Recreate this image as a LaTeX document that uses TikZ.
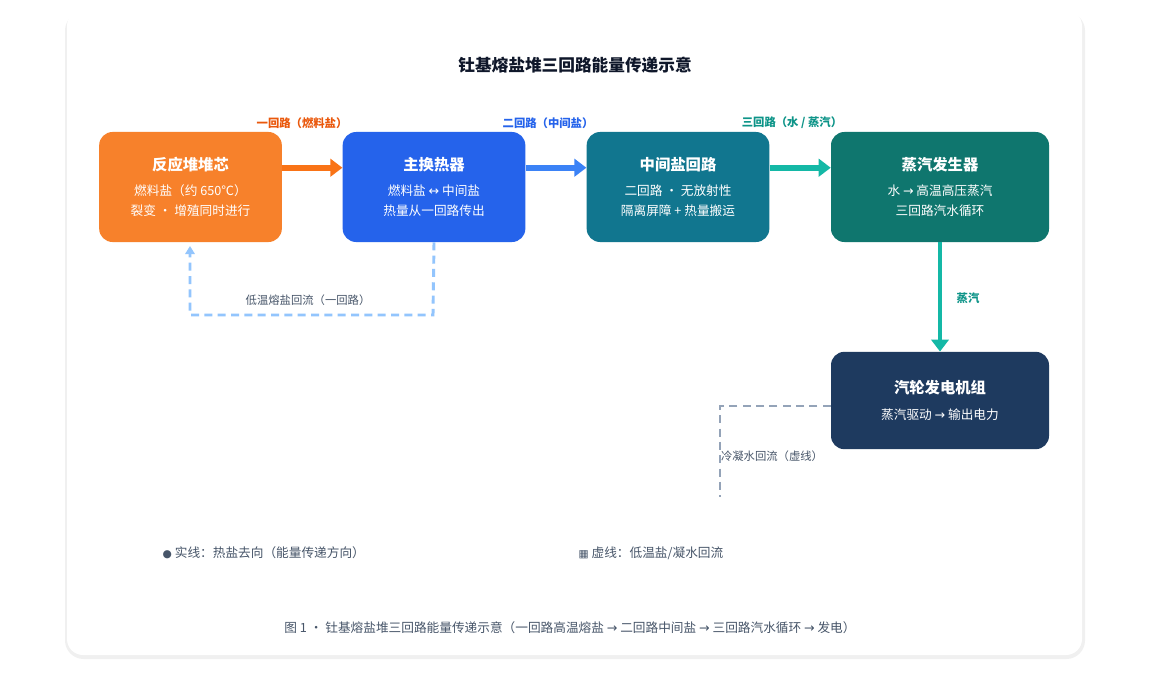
\documentclass[tikz,border=0pt]{standalone}
\usepackage{fontspec}
\setmainfont{Noto Sans CJK SC}
\newfontfamily\symf{DejaVu Sans}
\usetikzlibrary{arrows.meta}
\definecolor{corec}{HTML}{F7812B}
\definecolor{hxc}{HTML}{2563EB}
\definecolor{midc}{HTML}{11768F}
\definecolor{sgc}{HTML}{0F766E}
\definecolor{turc}{HTML}{1E3A5F}
\definecolor{a1}{HTML}{F97316}
\definecolor{a2}{HTML}{3B82F6}
\definecolor{a3}{HTML}{14B8A6}
\definecolor{l1}{HTML}{EA580C}
\definecolor{l2}{HTML}{2563EB}
\definecolor{l3}{HTML}{0D9488}
\definecolor{ret}{HTML}{93C5FD}
\definecolor{gret}{HTML}{94A3B8}
\definecolor{txt}{HTML}{475569}
\definecolor{ttl}{HTML}{0F172A}
\begin{document}
\begin{tikzpicture}[x=0.75pt,y=-0.75pt,
 box/.style={rounded corners=10pt,minimum height=82.5pt,text=white,align=center,inner sep=0pt},
 hd/.style={font=\bfseries\fontsize{11.5}{14}\selectfont},
 flow/.style={line width=4.5pt,-{Triangle[length=9pt,width=13pt]}},
 lab/.style={font=\bfseries\fontsize{8.5}{10}\selectfont},
 small/.style={font=\fontsize{8.5}{10}\selectfont,text=txt}]
\useasboundingbox (0,0) rectangle (1155,681);
\fill[white] (0,0) rectangle (1155,681);
\fill[black!6,rounded corners=14pt] (65,12) rectangle (1085,659);
\fill[white,rounded corners=12pt] (67,10) rectangle (1082,655);
\node[font=\bfseries\fontsize{12.5}{14}\selectfont,text=ttl] (title) at (575,65) {钍基熔盐堆三回路能量传递示意};
\node[box,fill=corec,minimum width=137pt,font=\fontsize{9.5}{15}\selectfont] (core) at (190.5,187) {{\bfseries\fontsize{11.5}{14}\selectfont 反应堆堆芯}\\[4pt]燃料盐（约 650℃）\\裂变 · 增殖同时进行};
\node[box,fill=hxc,minimum width=137pt,font=\fontsize{9.5}{15}\selectfont] (hx) at (434,187) {{\bfseries\fontsize{11.5}{14}\selectfont 主换热器}\\[4pt]燃料盐 {\symf ↔} 中间盐\\热量从一回路传出};
\node[box,fill=midc,minimum width=137pt,font=\fontsize{9.5}{15}\selectfont] (mid) at (678,187) {{\bfseries\fontsize{11.5}{14}\selectfont 中间盐回路}\\[4pt]二回路 · 无放射性\\隔离屏障 + 热量搬运};
\node[box,fill=sgc,minimum width=163.5pt,font=\fontsize{9.5}{15}\selectfont] (sg) at (940,187) {{\bfseries\fontsize{11.5}{14}\selectfont 蒸汽发生器}\\[4pt]水 {\symf →} 高温高压蒸汽\\三回路汽水循环};
\node[box,fill=turc,minimum width=163.5pt,minimum height=73pt,font=\fontsize{9.5}{15}\selectfont] (tur) at (940,400.5) {{\bfseries\fontsize{11.5}{14}\selectfont 汽轮发电机组}\\[4pt]蒸汽驱动 {\symf →} 输出电力};
\coordinate (c1) at ([yshift=-27pt]core.north east);
\coordinate (h1) at ([yshift=-27pt]hx.north west);
\coordinate (h2) at ([yshift=-27pt]hx.north east);
\coordinate (m1) at ([yshift=-27pt]mid.north west);
\coordinate (m2) at ([yshift=-27pt]mid.north east);
\coordinate (s1) at ([yshift=-27pt]sg.north west);
\draw[flow,a1] (c1) -- (h1);
\draw[flow,a2] (h2) -- (m1);
\draw[flow,a3] (m2) -- (s1);
\draw[flow,a3,line width=3pt] (sg.south) -- (tur.north);
\node[lab,text=l1] (t1) at (302,123) {一回路（燃料盐）};
\node[lab,text=l2] (t2) at (548,123) {二回路（中间盐）};
\node[lab,text=l3] (t3) at (792,123) {三回路（水 / 蒸汽）};
\node[lab,text=l3] (t4) at (968,298) {蒸汽};
\coordinate (rb) at (433,315);
\coordinate (ra) at (190,315);
\coordinate (re) at (190,246);
\draw[ret,line width=2.2pt,dash pattern=on 6pt off 4pt,-{Triangle[length=6pt,width=7pt]}] (hx.south) -- (rb) -- (ra) -- (re);
\node[small] (rl) at (308,300) {低温熔盐回流（一回路）};
\coordinate (g1) at (720,406);
\coordinate (g2) at (720,497);
\draw[gret,line width=2.2pt,dash pattern=on 6pt off 4pt] (tur.west|-g1) -- (g1) -- (g2);
\node[small] (gl) at (772,456) {冷凝水回流（虚线）};
\node[small,font=\fontsize{9.5}{11}\selectfont,anchor=west] (lg1) at (158,553) {{\symf\fontsize{8}{10}\selectfont ●} 实线：热盐去向（能量传递方向）};
\node[small,font=\fontsize{9.5}{11}\selectfont,anchor=west] (lg2) at (574,553) {{\symf\fontsize{8}{10}\selectfont ▦} 虚线：低温盐/凝水回流};
\node[small,font=\fontsize{9.5}{11}\selectfont] (cap) at (570,628) {图 1 · 钍基熔盐堆三回路能量传递示意（一回路高温熔盐 {\symf →} 二回路中间盐 {\symf →} 三回路汽水循环 {\symf →} 发电）};
\end{tikzpicture}
\end{document}
